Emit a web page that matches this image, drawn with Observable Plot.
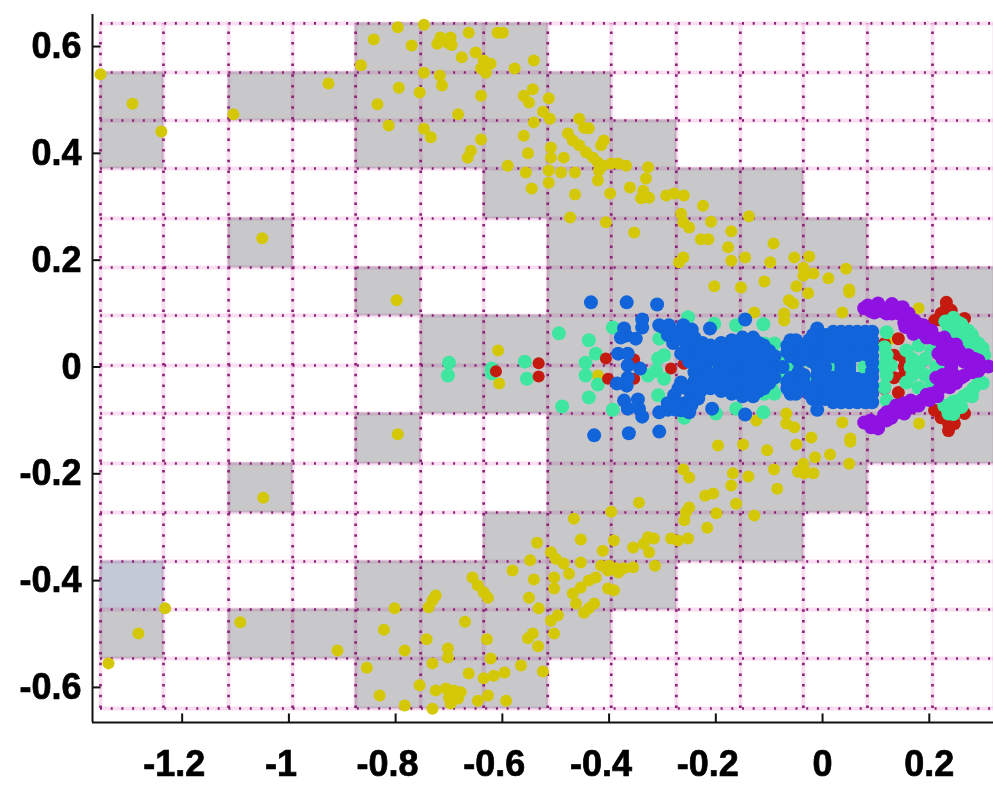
<!DOCTYPE html>
<html><head><meta charset="utf-8">
<script src="https://cdn.jsdelivr.net/npm/d3@7"></script>
<script src="https://cdn.jsdelivr.net/npm/@observablehq/plot@0.6"></script>
<style>html,body{margin:0;padding:0;background:#fff} svg text{stroke:#000;stroke-width:.7px}</style>
</head><body><div id="chart"></div>
<script>
const xTicksNeg=[-1.2,-1,-0.8,-0.6,-0.4,-0.2];
const xTicksPos=[0,0.2];
const yTicks=[-0.6,-0.4,-0.2,0,0.2,0.4,0.6];
const xEdges=[-1.353,-1.235,-1.113,-0.993,-0.875,-0.753,-0.635,-0.515,-0.396,-0.274,-0.154,-0.036,0.084,0.206,0.322];
const yEdges=[0.6433,0.5515,0.4616,0.3717,0.2781,0.1863,0.0964,0.0028,-0.0871,-0.1807,-0.2725,-0.3642,-0.4541,-0.5459,-0.6395];
const grayRows=[[4,5,6],[0,2,3,4,5,6,7],[0,4,5,6,7,8],[6,7,8,9,10],[2,7,8,9,10,11],[4,7,8,9,10,11,12,13],[5,6,7,8,9,10,11,12,13],[5,6,7,8,9,10,11,12,13],[4,7,8,9,10,11,12,13],[2,7,8,9,10,11],[6,7,8,9,10],[0,4,5,6,7,8],[0,2,3,4,5,6,7],[4,5,6]];
const yellow=[[-1.353,0.548],[-1.293,0.493],[-1.239,0.441],[-1.104,0.473],[-0.926,0.531],[-1.05,0.241],[-0.798,0.125],[-0.841,0.613],[-0.796,0.636],[-0.747,0.641],[-0.865,0.565],[-0.77,0.602],[-0.794,0.523],[-0.834,0.492],[-0.813,0.452],[-0.755,0.514],[-0.747,0.551],[-0.717,0.546],[-0.713,0.527],[-0.747,0.446],[-0.734,0.43],[-0.683,0.473],[-0.64,0.508],[-0.64,0.426],[-0.659,0.405],[-0.665,0.392],[-0.716,0.617],[-0.697,0.617],[-0.703,0.607],[-0.722,0.605],[-0.695,0.603],[-0.663,0.626],[-0.609,0.626],[-0.676,0.58],[-0.65,0.589],[-0.635,0.574],[-0.64,0.559],[-0.622,0.568],[-0.631,0.551],
[-0.599,0.626],[-0.541,0.574],[-0.577,0.559],[-0.56,0.508],[-0.543,0.52],[-0.55,0.495],[-0.513,0.503],[-0.524,0.478],[-0.541,0.458],[-0.511,0.465],[-0.56,0.433],[-0.552,0.4],[-0.59,0.377],[-0.556,0.364],[-0.545,0.334],[-0.509,0.411],[-0.509,0.392],[-0.485,0.392],[-0.49,0.364],[-0.513,0.368],[-0.513,0.345],[-0.464,0.364],[-0.464,0.323],[-0.421,0.349],[-0.477,0.437],[-0.468,0.424],[-0.456,0.465],[-0.447,0.448],[-0.438,0.447],[-0.456,0.415],[-0.443,0.402],[-0.43,0.392],[-0.421,0.383],[-0.41,0.424],[-0.415,0.415],[-0.412,0.377],[-0.396,0.381],[-0.383,0.381],[-0.368,0.377],[-0.419,0.368],[-0.327,0.374],[-0.331,0.353],[-0.398,0.325],[-0.361,0.336],[-0.336,0.33],[-0.34,0.316],[-0.325,0.317],[-0.293,0.321],[-0.278,0.325],[-0.26,0.321],[-0.224,0.302],[-0.473,0.28],[-0.406,0.271],[-0.353,0.252],[-0.265,0.287],[-0.261,0.271],[-0.25,0.261],[-0.209,0.272],[-0.138,0.282],[-0.171,0.254],[-0.228,0.239],[-0.214,0.239],[-0.177,0.224],[-0.092,0.231],[-0.261,0.205],[-0.269,0.196],[-0.171,0.199],[-0.145,0.205],[-0.098,0.196],[-0.053,0.205],[-0.025,0.207],[0.044,0.184],[-0.036,0.186],[-0.036,0.171],[-0.017,0.175],[0.011,0.166],[-0.109,0.16],[-0.203,0.151],[-0.153,0.149],[-0.049,0.151],[0.05,0.145],[-0.128,0.102],[-0.072,0.1],[-0.063,0.125],[-0.027,0.138],[-0.055,0.119],[-0.072,0.087],[0.05,0.14],[0.037,0.102],[0.18,0.11],[0.129,0.053],
[-0.796,-0.126],[-1.048,-0.245],[-1.232,-0.452],[-1.282,-0.499],[-1.091,-0.478],[-0.909,-0.531],[-1.338,-0.555],[-0.802,-0.452],[-0.822,-0.492],[-0.783,-0.531],[-0.854,-0.563],[-0.83,-0.615],[-0.783,-0.634],[-0.755,-0.596],[-0.731,-0.64],[-0.725,-0.428],[-0.731,-0.437],[-0.738,-0.45],[-0.742,-0.51],[-0.67,-0.477],[-0.702,-0.527],[-0.702,-0.544],[-0.731,-0.555],[-0.725,-0.606],[-0.706,-0.602],[-0.691,-0.606],[-0.678,-0.609],[-0.7,-0.619],[-0.683,-0.621],[-0.697,-0.63],[-0.663,-0.574],[-0.646,-0.625],[-0.627,-0.615],[-0.629,-0.51],[-0.622,-0.546],[-0.635,-0.583],[-0.616,-0.578],[-0.656,-0.394],[-0.646,-0.409],[-0.635,-0.422],[-0.627,-0.432],
[-0.593,-0.625],[-0.524,-0.57],[-0.565,-0.559],[-0.596,-0.572],[-0.543,-0.499],[-0.552,-0.508],[-0.533,-0.523],[-0.55,-0.432],[-0.532,-0.452],[-0.541,-0.398],[-0.581,-0.381],[-0.548,-0.362],[-0.535,-0.329],[-0.509,-0.475],[-0.503,-0.499],[-0.496,-0.465],[-0.509,-0.347],[-0.5,-0.359],[-0.485,-0.368],[-0.475,-0.387],[-0.503,-0.394],[-0.503,-0.415],[-0.453,-0.366],[-0.453,-0.323],[-0.466,-0.284],[-0.468,-0.424],[-0.453,-0.413],[-0.438,-0.4],[-0.425,-0.394],[-0.462,-0.443],[-0.447,-0.46],[-0.428,-0.443],[-0.438,-0.452],[-0.402,-0.415],[-0.391,-0.418],[-0.412,-0.344],[-0.391,-0.325],[-0.415,-0.372],[-0.4,-0.372],[-0.387,-0.377],[-0.372,-0.377],[-0.355,-0.375],[-0.402,-0.381],[-0.383,-0.385],[-0.396,-0.271],[-0.344,-0.254],[-0.355,-0.338],[-0.327,-0.319],[-0.316,-0.321],[-0.335,-0.331],[-0.325,-0.347],[-0.314,-0.372],[-0.284,-0.321],[-0.271,-0.325],[-0.252,-0.321],[-0.216,-0.301],[-0.259,-0.287],[-0.256,-0.272],[-0.25,-0.263],[-0.199,-0.274],[-0.162,-0.256],[-0.128,-0.278],[-0.22,-0.241],[-0.205,-0.237],[-0.171,-0.222],[-0.168,-0.199],[-0.139,-0.205],[-0.085,-0.228],[-0.091,-0.192],[-0.261,-0.192],[-0.25,-0.207],[-0.196,-0.147],[-0.149,-0.145],[-0.104,-0.156],[-0.049,-0.145],[0.052,-0.14],[0.014,-0.164],[-0.014,-0.169],[0.05,-0.181],[-0.036,-0.181],[-0.046,-0.196],[-0.034,-0.199],[-0.017,-0.199],[-0.036,-0.188],[-0.124,-0.1],[-0.068,-0.087],[-0.068,-0.106],[-0.053,-0.113],[-0.021,-0.132],[0.037,-0.104],[0.052,-0.134],[0.181,-0.106],
[-0.608,0.031],[-0.606,-0.031],[-0.421,-0.016]];
const redRight=[[0.116,0.044],[0.116,-0.04],[0.153,0],[0.153,0.015],[0.153,-0.015],[0.142,0.053],[0.142,-0.048],[0.134,-0.02],[0.134,0.022],[0.232,0.121],[0.232,0.111],[0.222,0.1],[0.21,0.087],[0.266,0.091],[0.241,0.106],[0.222,0.088],[0.24,0.095],[0.236,-0.119],[0.236,-0.106],[0.222,-0.095],[0.21,-0.081],[0.266,-0.087],[0.247,-0.106],[0.23,-0.09],[0.245,-0.095]];
const mint=[[-0.7,0.008],[-0.702,-0.016],[-0.62,-0.003],[-0.62,-0.012],[-0.558,0.01],[-0.554,-0.022],[-0.494,0.063],[-0.488,-0.074],[-0.438,0.05],[-0.438,-0.057],[-0.425,0.025],[-0.444,0.008],[-0.444,-0.016],[-0.421,-0.033],[-0.393,0.074],[-0.393,-0.08],[-0.308,0.016],[-0.297,0.022],[-0.312,-0.007],[-0.297,-0.022],[-0.308,-0.053],[-0.306,0.053],[-0.327,-0.016],[-0.162,0.078],[-0.111,0.08],[-0.162,-0.078],[-0.111,-0.085],[-0.109,0.044],[-0.109,-0.05],[-0.09,0.044],[-0.09,-0.05],[-0.252,0.093],[-0.259,-0.095],[-0.203,0.081],[-0.2,-0.087],[-0.234,-0.001],[-0.203,-0.003],[-0.246,0.027],[-0.096,0.036],[-0.096,-0.038],[-0.082,0.018],[-0.082,-0.018],[0.078,0],[0.022,0],[-0.059,0],[-0.027,0.012],[-0.027,-0.025],
[0.12,0.065],[0.12,0.022],[0.128,0.003],[0.12,-0.016],[0.12,-0.063],[0.116,0.037],[0.116,-0.038],[0.113,0.003],[0.157,0.031],[0.18,0.04],[0.204,0.031],[0.165,0],[0.213,0],[0.157,-0.029],[0.18,-0.039],[0.204,-0.029],[0.18,0],[0.168,0.015],[0.192,0.015],[0.168,-0.015],[0.192,-0.015],[0.236,0.074],[0.255,0.083],[0.255,0.063],[0.273,0.068],[0.273,0.044],[0.292,0.044],[0.303,0.022],[0.245,0.075],[0.265,0.056],[0.283,0.05],[0.295,0.035],[0.24,0.065],[0.245,0.092],[0.23,0.085],[0.26,0.08],[0.28,0.06],[0.3,0.035],[0.228,-0.072],[0.236,-0.087],[0.255,-0.063],[0.273,-0.05],[0.292,-0.031],[0.25,-0.078],[0.235,-0.08],[0.245,-0.065],[0.265,-0.055],[0.283,-0.04],[0.24,-0.07],[0.3,-0.03],[0.28,-0.055],[0.26,-0.075],[0.245,-0.088],[0.222,0]];
const redLeft=[[-0.532,0.007],[-0.532,-0.018],[-0.612,-0.008],[-0.406,0.016],[-0.402,-0.022],[-0.353,0.014],[-0.353,-0.022],[-0.284,-0.003],[-0.26,0.006]];
const blue=[[-0.434,0.121],[-0.367,0.121],[-0.31,0.117],[-0.428,-0.128],[-0.363,-0.124],[-0.306,-0.121],[-0.145,0.089],[-0.145,-0.089],[-0.211,0.072],[-0.207,-0.078],[-0.372,0.072],[-0.368,0.059],[-0.378,0.055],[-0.35,0.053],[-0.338,0.089],[-0.338,0.074],[-0.383,0.025],[-0.365,0.025],[-0.365,0.003],[-0.342,-0.003],[-0.365,-0.02],[-0.367,-0.035],[-0.385,-0.031],[-0.372,-0.063],[-0.365,-0.078],[-0.346,-0.061],[-0.344,-0.078],[-0.338,-0.093],[-0.306,-0.085],[-0.29,-0.068],[-0.306,0.078],[-0.288,0.078],[-0.261,0.078],
[-0.3,0.075],[-0.245,0.07],[-0.29,0.06],[-0.27,0.055],[-0.25,0.055],[-0.235,0.04],[-0.28,0.045],[-0.255,0.04],[-0.24,0.025],[-0.265,0.025],[-0.25,0.01],[-0.278,-0.053],[-0.259,-0.068],[-0.265,-0.081],[-0.246,-0.053],[-0.24,-0.026],[-0.265,-0.029],[-0.228,-0.044],[-0.278,-0.068],[-0.246,-0.072],[-0.233,-0.059],[-0.275,0.065],[-0.26,0.06],[-0.24,0.055],[-0.225,0.045],[-0.225,0.03],[-0.27,-0.04],[-0.255,-0.04],[-0.24,-0.04],[-0.29,-0.08],[-0.275,-0.08],[-0.25,-0.085],[-0.24,0.005],[-0.24,-0.01],
[-0.23,0.03],[-0.23,0.012],[-0.23,-0.012],[-0.23,-0.03],[-0.21,0.04],[-0.21,0.02],[-0.21,-0.02],[-0.21,-0.04],[-0.19,0.045],[-0.19,0.025],[-0.19,0.005],[-0.19,-0.005],[-0.19,-0.025],[-0.19,-0.045],[-0.17,0.05],[-0.17,0.03],[-0.17,0.012],[-0.17,-0.012],[-0.17,-0.03],[-0.17,-0.05],[-0.15,0.055],[-0.15,0.035],[-0.15,0.015],[-0.15,-0.015],[-0.15,-0.035],[-0.15,-0.055],[-0.13,0.055],[-0.13,0.035],[-0.13,0.015],[-0.13,-0.015],[-0.13,-0.035],[-0.13,-0.055],[-0.11,0.04],[-0.11,0.02],[-0.11,0],[-0.11,-0.02],[-0.11,-0.04],[-0.09,0.02],[-0.09,0],[-0.09,-0.02],[-0.075,0],
[-0.22,0],[-0.22,0.025],[-0.22,-0.025],[-0.2,0.03],[-0.2,0.012],[-0.2,-0.012],[-0.2,-0.03],[-0.18,0.04],[-0.18,0.02],[-0.18,0],[-0.18,-0.02],[-0.18,-0.04],[-0.16,0.045],[-0.16,0.025],[-0.16,0],[-0.16,-0.025],[-0.16,-0.045],[-0.14,0.045],[-0.14,0.025],[-0.14,0],[-0.14,-0.025],[-0.14,-0.045],[-0.12,0.045],[-0.12,0.025],[-0.12,0.008],[-0.12,-0.008],[-0.12,-0.025],[-0.12,-0.045],[-0.1,0.03],[-0.1,0.012],[-0.1,-0.012],[-0.1,-0.03],
[-0.06,0.05],[-0.06,0.035],[-0.06,0.02],[-0.06,-0.02],[-0.06,-0.035],[-0.06,-0.05],[-0.066,0.04],[-0.066,0.028],[-0.066,-0.028],[-0.066,-0.04],[-0.045,0.04],[-0.045,0.025],[-0.045,0.01],[-0.045,-0.01],[-0.045,-0.025],[-0.045,-0.04],[-0.01,0.072],[-0.01,0.06],[-0.01,0.045],[-0.01,0.03],[-0.01,0.015],[-0.01,-0.015],[-0.01,-0.03],[-0.01,-0.045],[-0.01,-0.06],[-0.01,-0.08],[-0.025,0.05],[-0.025,0.03],[-0.025,-0.05],[-0.025,-0.04],[0.005,0.06],[0.005,0.04],[0.005,0.02],[0.005,-0.02],[0.005,-0.04],[0.005,-0.06],
[-0.05,0.05],[-0.05,-0.05],[-0.035,0.03],[-0.035,0.015],[-0.035,-0.015],[-0.035,-0.03],[-0.02,0.01],[-0.018,0.06],[-0.018,-0.06],[-0.01,0],[0.005,0],[0.012,0.03],[0.012,-0.03],[0.012,0.05],[0.012,-0.05],
[0.02,0.066],[0.02,0.05],[0.02,0.035],[0.02,0.02],[0.02,-0.02],[0.02,-0.035],[0.02,-0.05],[0.02,-0.066],[0.035,0.066],[0.035,0.05],[0.035,0.035],[0.035,0.02],[0.035,0.005],[0.035,-0.005],[0.035,-0.02],[0.035,-0.035],[0.035,-0.05],[0.035,-0.066],[0.05,0.066],[0.05,0.05],[0.05,0.035],[0.05,0.02],[0.05,0.005],[0.05,-0.005],[0.05,-0.02],[0.05,-0.035],[0.05,-0.05],[0.05,-0.066],[0.065,0.066],[0.065,0.05],[0.065,0.035],[0.065,0.022],[0.065,-0.022],[0.065,-0.035],[0.065,-0.05],[0.065,-0.066],[0.08,0.066],[0.08,0.05],[0.08,0.035],[0.08,0.024],[0.08,-0.024],[0.08,-0.035],[0.08,-0.05],[0.08,-0.066],[0.093,0.066],[0.093,0.05],[0.093,0.035],[0.093,0.02],[0.093,0.008],[0.093,-0.008],[0.093,-0.02],[0.093,-0.035],[0.093,-0.05],[0.093,-0.066]];
const purple=[[0.085,0.115],[0.104,0.119],[0.078,0.11],[0.097,0.102],[0.123,0.11],[0.144,0.111],[0.144,0.1],[0.161,0.1],[0.172,0.087],[0.153,0.083],[0.189,0.078],[0.172,0.072],[0.204,0.068],[0.189,0.063],[0.21,0.053],[0.228,0.055],[0.217,0.053],[0.236,0.044],[0.255,0.031],[0.273,0.022],[0.292,0.012],[0.311,0.001],[0.228,0.027],[0.247,0.016],[0.279,0],[0.298,0],[0.241,0],[0.217,0.025],[0.26,0.02],[0.09,0.105],[0.11,0.105],[0.13,0.1],[0.16,0.085],[0.18,0.07],[0.195,0.055],[0.225,0.04],[0.24,0.03],[0.265,0.01],[0.29,0],[0.285,0.015],[0.25,0.042],[0.13,0.118],[0.15,0.112],[0.12,0.1],[0.165,0.09],[0.18,0.08],[0.195,0.07],[0.155,0.075],[0.17,0.062],[0.225,0.015],
[0.091,-0.113],[0.078,-0.104],[0.104,-0.115],[0.11,-0.1],[0.129,-0.095],[0.153,-0.087],[0.166,-0.076],[0.185,-0.063],[0.204,-0.05],[0.222,-0.031],[0.241,-0.022],[0.266,-0.016],[0.292,-0.007],[0.138,-0.072],[0.153,-0.068],[0.172,-0.066],[0.213,-0.02],[0.217,-0.044],[0.238,-0.038],[0.247,-0.016],[0.26,-0.02],[0.09,-0.1],[0.105,-0.105],[0.12,-0.085],[0.12,-0.1],[0.14,-0.085],[0.195,-0.052],[0.23,-0.03],[0.25,-0.03],[0.28,-0.01],[0.1,-0.108],[0.115,-0.09],[0.13,-0.082],[0.15,-0.078],[0.165,-0.063],[0.18,-0.072],[0.2,-0.062],[0.215,-0.055],[0.225,-0.015]];

const xLeft=-1.368,xRight=0.3203,yTop=0.66,yBottom=-0.6657;
const cells=grayRows.flatMap((cols,r)=>cols.map(c=>({x1:xEdges[c],x2:xEdges[c+1],y1:yEdges[r+1],y2:yEdges[r],bluish:r===11&&c===0})));
const px=d=>d[0],py=d=>d[1];
const chart=Plot.plot({
  width:993,height:785,marginLeft:92,marginRight:0,marginTop:14,marginBottom:63,
  x:{domain:[xLeft,xRight],axis:null},
  y:{domain:[yBottom,yTop],axis:null},
  style:{fontFamily:"'Liberation Sans',Arial,sans-serif",fontWeight:"bold",background:"#fff"},
  marks:[
    Plot.rect(cells,{x1:"x1",x2:"x2",y1:"y1",y2:"y2",fill:d=>d.bluish?"#c4c9d6":"#c8c8cb",inset:-0.5}),
    Plot.ruleX(xEdges,{y1:yEdges[yEdges.length-1],y2:yEdges[0],stroke:"#f0b0dc",strokeOpacity:0.4,strokeWidth:4,mixBlendMode:"multiply"}),
    Plot.ruleY(yEdges,{x1:xEdges[0],x2:xRight,stroke:"#f0b0dc",strokeOpacity:0.4,strokeWidth:4,mixBlendMode:"multiply"}),
    Plot.ruleX(xEdges,{y1:yEdges[yEdges.length-1],y2:yEdges[0],stroke:"#8a1f76",strokeWidth:2.6,strokeDasharray:"2.5,8.2"}),
    Plot.ruleY(yEdges,{x1:xEdges[0],x2:xRight,stroke:"#8a1f76",strokeWidth:2.6,strokeDasharray:"2,8.7"}),
    Plot.dot(yellow,{x:px,y:py,r:6,fill:"#d4c806"}),
    Plot.dot(redRight,{x:px,y:py,r:6.5,fill:"#c41a10"}),
    Plot.dot(mint,{x:px,y:py,r:7,fill:"#3fe6a0"}),
    Plot.dot(redLeft,{x:px,y:py,r:6,fill:"#c41a10"}),
    Plot.dot(blue,{x:px,y:py,r:7,fill:"#1264da"}),
    Plot.dot(purple,{x:px,y:py,r:7,fill:"#9012e2"}),
    Plot.ruleX(xTicksNeg.concat(xTicksPos),{y1:yBottom,y2:yBottom+0.016,stroke:"#111",strokeWidth:2}),
    Plot.ruleY(yTicks,{x1:xLeft,x2:xLeft+0.016,stroke:"#111",strokeWidth:2}),
    Plot.ruleX([xLeft],{stroke:"#111",strokeWidth:2}),
    Plot.ruleY([yBottom],{stroke:"#111",strokeWidth:2}),
    Plot.axisX(xTicksNeg,{tickSize:0,tickPadding:28,fontSize:36,dx:-8,tickFormat:d=>String(d),label:null}),
    Plot.axisX(xTicksPos,{tickSize:0,tickPadding:28,fontSize:36,tickFormat:d=>String(d),label:null}),
    Plot.axisY(yTicks,{tickSize:0,tickPadding:11,fontSize:36,tickFormat:d=>String(d),label:null})
  ]
});
document.getElementById("chart").appendChild(chart);
</script></body></html>
